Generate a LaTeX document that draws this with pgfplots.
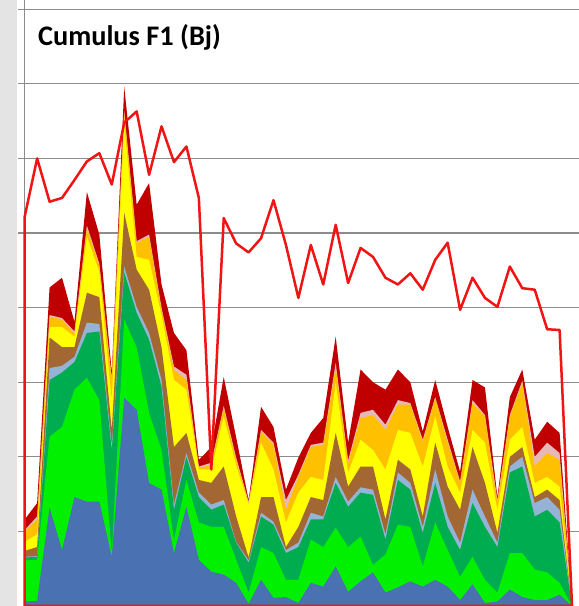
\documentclass[border=0pt]{standalone}
\usepackage{fontspec}
\setmainfont{Carlito}
\usepackage{pgfplots}
\pgfplotsset{compat=1.18}
\usepackage{pgfplotstable}

\definecolor{cblue}{RGB}{74,113,178}
\definecolor{cbgreen}{RGB}{0,240,0}
\definecolor{cmgreen}{RGB}{0,172,80}
\definecolor{clblue}{RGB}{149,179,215}
\definecolor{cbrown}{RGB}{163,103,52}
\definecolor{cyellow}{RGB}{255,255,0}
\definecolor{corange}{RGB}{255,192,0}
\definecolor{cpink}{RGB}{230,185,184}
\definecolor{cdkred}{RGB}{192,0,0}
\definecolor{cred}{RGB}{240,20,20}
\definecolor{gridgray}{RGB}{140,140,140}
\definecolor{leftgray}{RGB}{228,228,228}

% cumulative tops of the stacked layers (bottom to top), and the red outline series
\pgfplotstableread{
x  bl   bg   mg   lb   br   ye   or   pk   dr   rd
0  0.06 0.61 0.65 0.66 0.74 0.86 1.00 1.02 1.16 5.22
1  0.07 0.62 0.66 0.67 0.79 0.96 1.16 1.20 1.38 6.00
2  1.32 2.27 3.03 3.19 3.60 3.74 3.88 3.90 4.27 5.42
3  0.75 2.40 3.13 3.22 3.47 3.74 3.84 3.86 4.40 5.47
4  1.46 2.90 3.27 3.34 3.47 3.61 3.65 3.68 3.81 5.71
5  1.40 3.06 3.66 3.80 4.20 4.95 5.07 5.10 5.55 5.96
6  1.40 2.76 3.68 3.78 4.14 4.48 4.56 4.59 4.98 6.07
7  0.66 0.71 2.09 2.16 2.36 2.76 3.03 3.06 3.13 5.65
8  2.79 3.84 4.47 4.55 5.27 6.48 6.61 6.64 6.96 6.48
9  2.63 3.47 3.93 4.01 4.51 4.68 4.87 4.89 5.38 6.63
10 1.65 2.59 3.57 3.66 4.24 4.64 4.95 4.98 5.67 5.78
11 1.56 2.09 2.94 3.03 3.47 3.90 3.97 4.00 4.31 6.43
12 0.71 0.89 1.29 1.36 2.13 3.03 3.17 3.21 3.66 5.95
13 1.33 1.69 2.00 2.05 2.32 2.90 3.03 3.10 3.43 6.16
14 0.62 1.12 1.46 1.52 1.69 1.83 1.85 1.87 1.96 5.47
15 0.46 1.06 1.29 1.36 1.65 1.83 1.89 1.92 2.13 1.83
16 0.42 1.06 1.36 1.42 1.87 2.54 2.66 2.68 3.07 5.20
17 0.31 0.62 0.85 0.86 1.20 1.89 1.96 1.99 2.26 4.86
18 0.03 0.18 0.58 0.61 0.65 1.36 1.38 1.40 1.42 4.74
19 0.35 0.79 1.20 1.25 1.46 2.19 2.34 2.36 2.67 4.93
20 0.11 0.71 1.09 1.13 1.46 1.83 2.16 2.19 2.40 5.44
21 0.12 0.35 0.71 0.75 0.79 1.12 1.29 1.42 1.56 4.84
22 0.04 0.35 0.79 0.85 1.06 1.52 1.73 1.76 1.99 4.13
23 0.31 0.89 1.16 1.25 1.46 1.73 2.13 2.16 2.32 4.84
24 0.26 0.79 1.16 1.20 1.42 1.69 2.16 2.19 2.52 4.31
25 0.53 1.05 1.65 1.73 2.32 2.99 3.21 3.26 3.61 5.11
26 0.19 0.79 1.33 1.40 1.60 1.79 1.92 1.95 2.19 4.33
27 0.33 0.93 1.52 1.59 1.87 2.23 2.52 2.59 3.17 4.80
28 0.45 0.55 1.49 1.56 1.87 2.09 2.56 2.63 3.00 4.68
29 0.18 0.69 0.89 0.96 1.16 1.83 2.36 2.43 2.90 4.40
30 0.25 1.09 1.69 1.79 1.96 2.36 2.70 2.76 3.17 4.31
31 0.33 1.06 1.56 1.65 1.83 2.32 2.70 2.72 3.00 4.46
32 0.26 0.53 0.98 1.06 1.20 1.87 2.20 2.23 2.34 4.24
33 0.35 1.12 1.65 1.83 2.19 2.54 2.79 2.80 3.03 4.64
34 0.26 0.75 1.06 1.20 1.60 1.87 2.19 2.23 2.40 4.87
35 0.08 0.39 0.75 0.85 1.29 1.52 1.65 1.67 1.80 3.97
36 0.29 0.66 1.38 1.56 2.13 2.36 2.72 2.76 3.03 4.40
37 0.04 0.35 1.06 1.20 1.65 2.19 2.54 2.56 2.93 4.13
38 0.06 0.18 0.79 0.85 0.98 1.29 1.38 1.42 1.46 4.01
39 0.22 0.71 1.79 1.87 2.00 2.23 2.54 2.56 2.80 4.55
40 0.12 0.71 1.87 2.00 2.13 2.40 2.99 3.02 3.17 4.26
41 0.08 0.49 1.20 1.38 1.46 1.65 1.87 2.00 2.23 4.24
42 0.08 0.45 1.29 1.46 1.56 1.73 2.05 2.19 2.47 3.71
43 0.15 0.31 1.12 1.29 1.42 1.60 1.96 2.05 2.32 3.70
44 0    0    0    0    0    0    0    0    0    0
}\data

\begin{document}
\begin{tikzpicture}
\path[use as bounding box] (-14.82pt,0pt) rectangle (332.58pt,363.6pt);
\fill[leftgray] (-14.82pt,0pt) rectangle (-4.62pt,363.6pt);
\begin{axis}[
  at={(0pt,0pt)}, anchor=south west,
  scale only axis, width=332.58pt, height=363.6pt,
  xmin=0, xmax=44.56, ymin=0, ymax=8.124,
  axis x line=none, axis y line*=left,
  y axis line style={gridgray, line width=0.6pt},
  ytick={1,2,3,4,5,6,7,8},
  yticklabel style={opacity=0},
  tick align=outside, major tick length=4pt,
  tick style={gridgray, line width=0.8pt},
  ymajorgrids, grid style={gridgray, line width=0.8pt},
  clip=false,
]
\addplot[draw=none, fill=cdkred]  table[x=x, y=dr] {\data} \closedcycle;
\addplot[draw=none, fill=cpink]   table[x=x, y=pk] {\data} \closedcycle;
\addplot[draw=none, fill=corange] table[x=x, y=or] {\data} \closedcycle;
\addplot[draw=none, fill=cyellow] table[x=x, y=ye] {\data} \closedcycle;
\addplot[draw=none, fill=cbrown]  table[x=x, y=br] {\data} \closedcycle;
\addplot[draw=none, fill=clblue]  table[x=x, y=lb] {\data} \closedcycle;
\addplot[draw=none, fill=cmgreen] table[x=x, y=mg] {\data} \closedcycle;
\addplot[draw=none, fill=cbgreen] table[x=x, y=bg] {\data} \closedcycle;
\addplot[draw=none, fill=cblue]   table[x=x, y=bl] {\data} \closedcycle;
% red series drawn as an unfilled area
\addplot[draw=cred, line width=1.5pt, line join=round] table[x=x, y=rd] {\data} \closedcycle;

\node[anchor=base west, font=\bfseries\fontsize{17}{20}\selectfont]
  at (axis cs:0.6,7.52) {Cumulus F1 (Bj)};
\end{axis}
\end{tikzpicture}
\end{document}
